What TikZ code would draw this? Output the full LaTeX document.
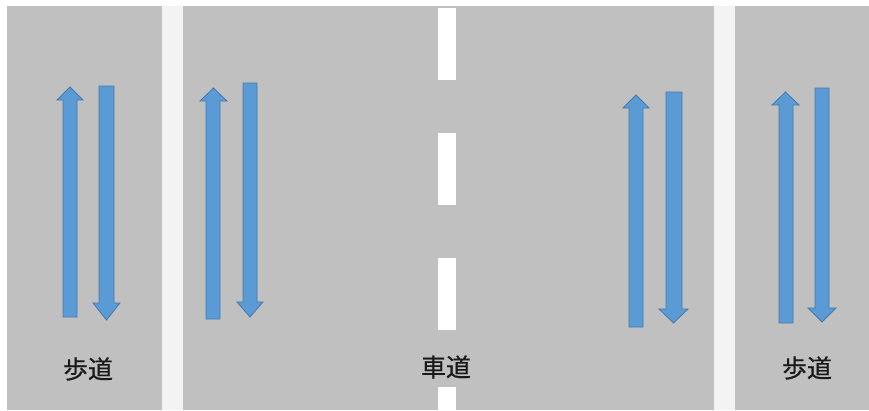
\documentclass[tikz,border=0pt]{standalone}
\usepackage{fontspec}
\newfontfamily\jpfont[FakeBold=0.6]{Noto Sans CJK JP}
\definecolor{road}{RGB}{192,192,192}
\definecolor{line}{RGB}{243,243,243}
\definecolor{arrfill}{RGB}{91,155,213}
\definecolor{arredge}{RGB}{70,120,170}
\tikzset{
  arr/.style={fill=arrfill,draw=arredge,line width=0.8pt,line join=miter},
  lbl/.style={font=\jpfont\fontsize{25}{25}\selectfont,text=black!90,inner sep=0pt}
}
% up arrow: shaft x1,x2; head hx1,hx2; tip y; head base y; bottom y
\newcommand\myuparr[7]{\draw[arr] (#1,#7) -- (#1,#6) -- (#3,#6) -- ({(#3+#4)/2},#5) -- (#4,#6) -- (#2,#6) -- (#2,#7) -- cycle;}
% down arrow: shaft x1,x2; head hx1,hx2; top y; head base y; tip y
\newcommand\mydownarr[7]{\draw[arr] (#1,#5) -- (#1,#6) -- (#3,#6) -- ({(#3+#4)/2},#7) -- (#4,#6) -- (#2,#6) -- (#2,#5) -- cycle;}
\begin{document}
\begin{tikzpicture}[x=1pt,y=-1pt]
\useasboundingbox (0,0) rectangle (869,410);
\fill[white] (0,0) rectangle (869,410);
\fill[road] (7,6) rectangle (869,410);
% sidewalk lines
\fill[line] (162,6) rectangle (183,410);
\fill[line] (714,6) rectangle (735,410);
% centre dashes
\foreach \y in {8,133,258,387} {
  \fill[white] (438,\y) rectangle (456,{min(\y+72,410)});
}
% arrows
\myuparr{63}{77}{57}{83}{87}{100}{317}
\mydownarr{99}{114}{93}{120}{86}{303}{320}
\myuparr{206}{220}{200}{227}{88}{101}{319}
\mydownarr{243}{257}{237}{263}{83}{302}{317}
\myuparr{629}{643}{623}{649}{95}{108}{327}
\mydownarr{666}{682}{659}{688}{92}{309}{323}
\myuparr{779}{793}{772}{799}{92}{105}{323}
\mydownarr{815}{829}{808}{836}{88}{308}{322}
% labels
\node[lbl] (sw1) at (88,369) {歩道};
\node[lbl] (rd) at (446,367) {車道};
\node[lbl] (sw2) at (807,368) {歩道};
\end{tikzpicture}
\end{document}
